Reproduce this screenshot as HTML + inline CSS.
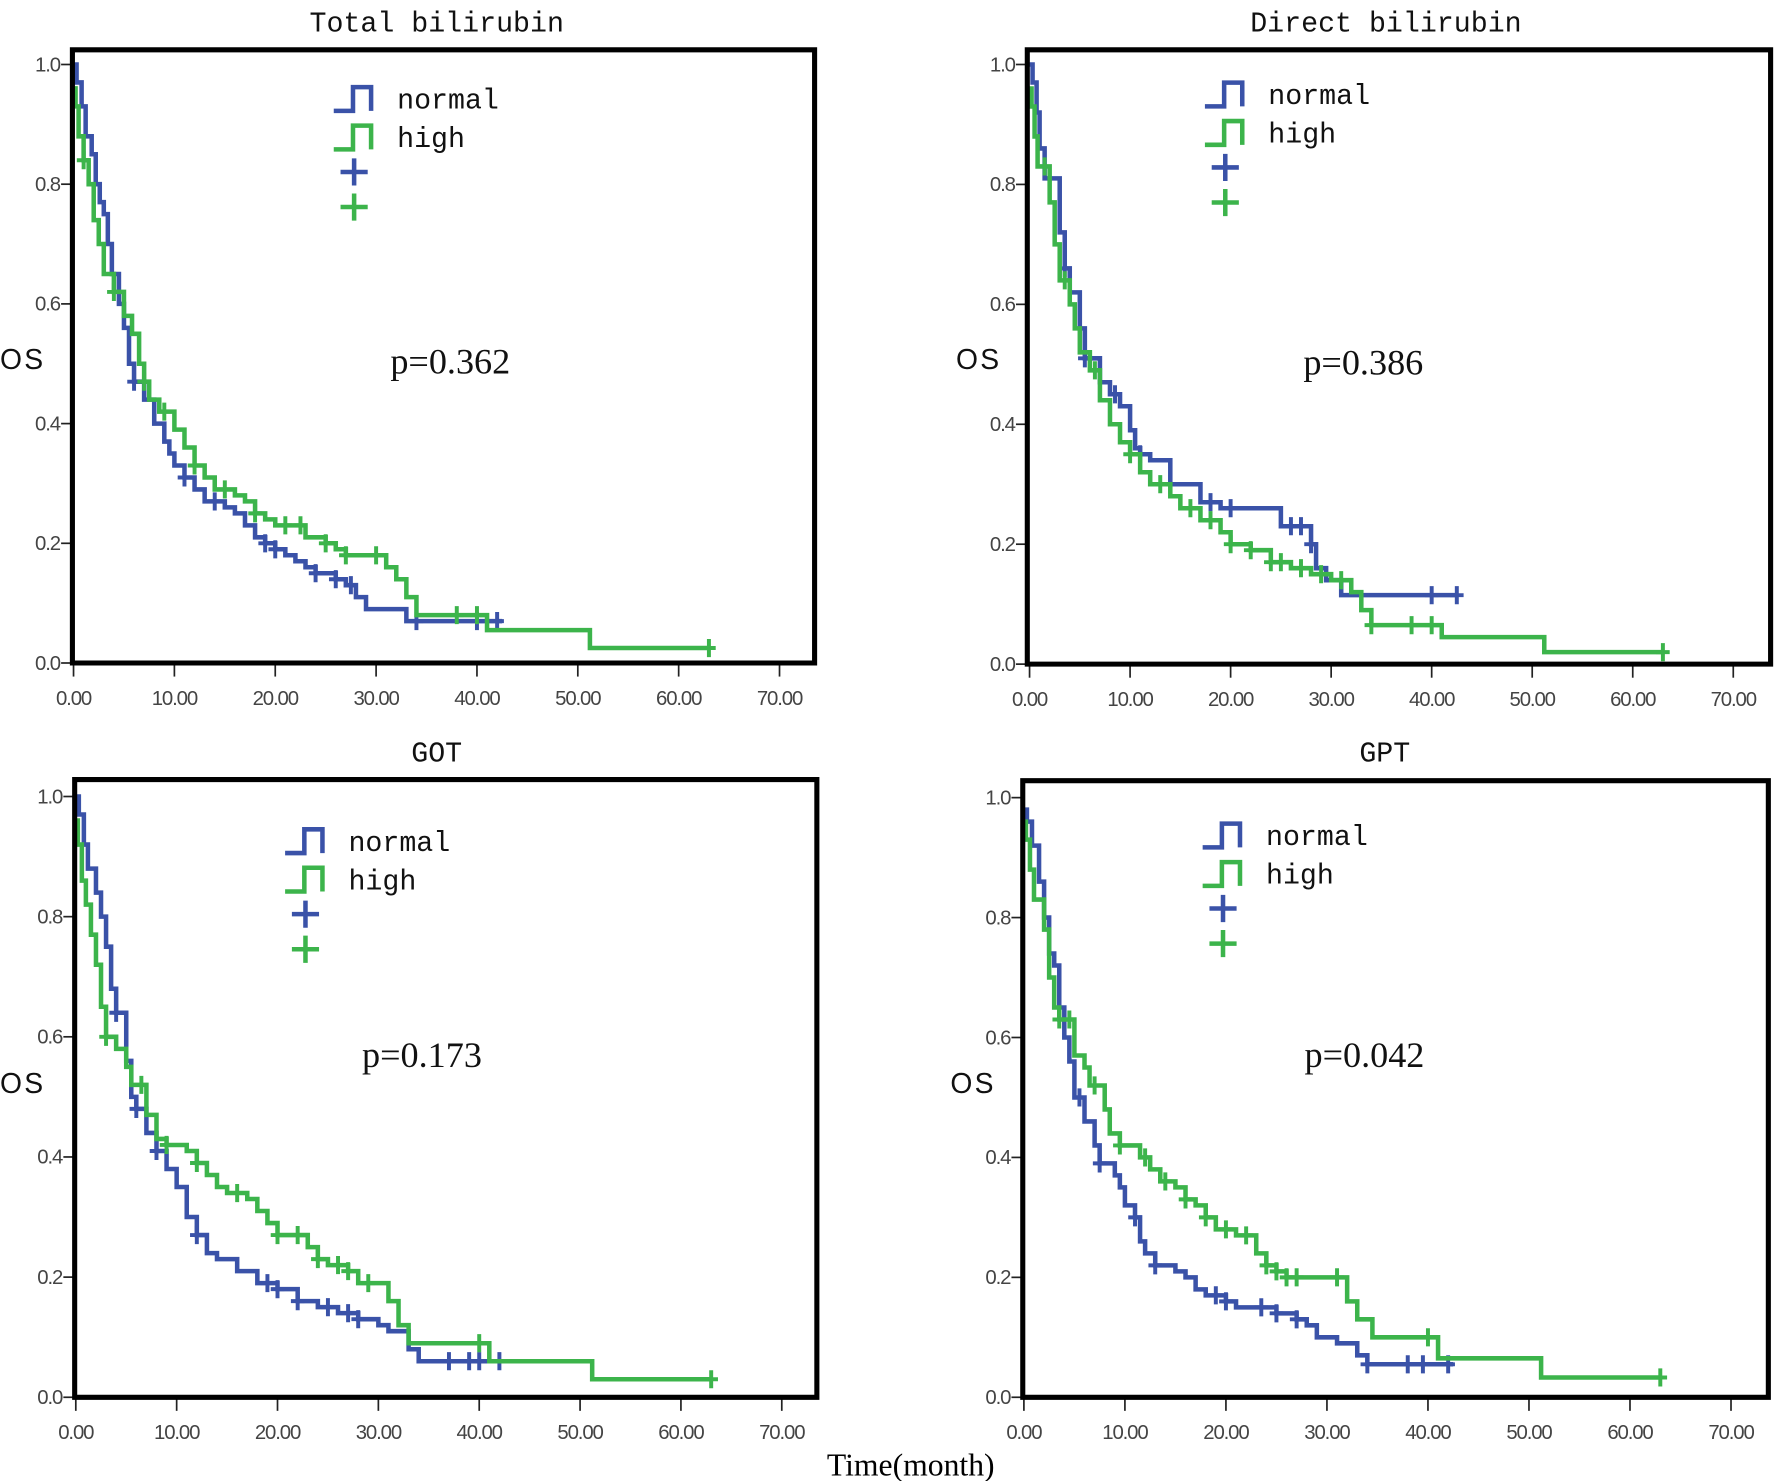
<!DOCTYPE html>
<html><head><meta charset="utf-8"><style>
html,body{margin:0;padding:0;background:#fff;}
svg{display:block;}
text{font-family:"Liberation Sans",sans-serif;}
.tick{font-size:18px;fill:#444;letter-spacing:-1px;}
.ser{font-family:"Liberation Serif","Noto Serif CJK SC",serif;}
.mono{font-family:"Liberation Mono","Noto Serif CJK SC",monospace;}
</style></head><body>
<svg id="chart" width="1774" height="1481" viewBox="0 0 1568 1309" preserveAspectRatio="none" xmlns="http://www.w3.org/2000/svg">
<text class="ser" x="805" y="1304" font-size="28" text-anchor="middle">Time(month)</text>
</svg>
<script>
const xTicks=[0,10,20,30,40,50,60,70];
const xTickLabels=["0.00","10.00","20.00","30.00","40.00","50.00","60.00","70.00"];
const yTicks=[0,0.2,0.4,0.6,0.8,1.0];
const yTickLabels=["0.0","0.2","0.4","0.6","0.8","1.0"];
const titles=["Total bilirubin","Direct bilirubin","GOT","GPT"];
const pValues=["p=0.362","p=0.386","p=0.173","p=0.042"];

const tbNormalT=[0,0.3,0.8,1.2,1.8,2.2,2.6,3,3.4,3.8,4.5,5,5.5,6,7,8,9,9.5,10,11,12,13,15,16,17,18,19,20,21,22,23,24,26,27,28,29,33];
const tbNormalS=[1,0.97,0.93,0.88,0.85,0.8,0.77,0.75,0.7,0.65,0.6,0.56,0.5,0.47,0.44,0.4,0.37,0.35,0.33,0.31,0.29,0.27,0.26,0.25,0.23,0.21,0.2,0.19,0.18,0.17,0.16,0.15,0.14,0.13,0.11,0.09,0.07];
const tbNormalEnd=42.5;
const tbNormalCens=[6,11,14,19,20,24,26,27.5,34,40,42];
const tbHighT=[0,0.2,0.5,1,1.5,2,2.5,3,4,5,5.8,6.5,7,7.5,8.5,10,11,12,13,14,16,17,18,19,20,23,25,26,27,31,32,33,34,41,51.2];
const tbHighS=[0.96,0.93,0.88,0.84,0.8,0.74,0.7,0.65,0.62,0.58,0.55,0.5,0.47,0.44,0.42,0.39,0.36,0.33,0.31,0.29,0.28,0.27,0.25,0.24,0.23,0.21,0.2,0.19,0.18,0.16,0.14,0.11,0.08,0.055,0.025];
const tbHighEnd=63;
const tbHighCens=[1,4,7,9,12,15,18,21,22.5,25,27,30,38,40,63];

const dbNormalT=[0,0.3,0.7,1,1.5,3,3.5,4,5,5.5,7,8,9,10,10.5,11,12,14,17,19,25,28,28.5,29.5,31];
const dbNormalS=[1,0.97,0.92,0.86,0.81,0.72,0.66,0.62,0.56,0.51,0.47,0.45,0.43,0.39,0.36,0.35,0.34,0.3,0.27,0.26,0.23,0.2,0.16,0.14,0.115];
const dbNormalEnd=42.5;
const dbNormalCens=[3.5,5.5,8.5,11,14,18,20,26,27,28,40,42.5];
const dbHighT=[0,0.2,0.5,0.8,2,2.5,3,4,4.5,5,6,7,8,9,10,11,12,14,15,17,19,20,22,24,26,28,30,32,33,34,41,51.2];
const dbHighS=[0.96,0.93,0.88,0.83,0.77,0.7,0.64,0.6,0.56,0.52,0.49,0.44,0.4,0.37,0.35,0.32,0.3,0.28,0.26,0.24,0.22,0.2,0.19,0.17,0.16,0.15,0.14,0.12,0.09,0.065,0.045,0.02];
const dbHighEnd=63;
const dbHighCens=[1.5,3.5,6.5,10,13,16,18,20,22,24,25,27,29,31,34,38,40,63];

const gotNormalT=[0,0.3,0.8,1.2,2,2.5,3,3.5,4,5,5.5,6,7,8,9,10,11,12,13,14,16,18,20,22,24,26,28,30,31,33,34];
const gotNormalS=[1,0.97,0.92,0.88,0.84,0.8,0.75,0.68,0.64,0.56,0.5,0.48,0.44,0.41,0.38,0.35,0.3,0.27,0.24,0.23,0.21,0.19,0.18,0.16,0.15,0.14,0.13,0.12,0.11,0.08,0.06];
const gotNormalEnd=43;
const gotNormalCens=[4,6,8,12,19,20,22,25,27,28,37,39,40,42];
const gotHighT=[0,0.2,0.6,1,1.5,2,2.5,3,4,5,5.5,7,8,9,11,12,13,14,15,17,18,19,20,23,24,25,27,28,31,32,33,41,51.2];
const gotHighS=[0.96,0.92,0.86,0.82,0.77,0.72,0.65,0.6,0.58,0.55,0.52,0.47,0.43,0.42,0.41,0.39,0.37,0.35,0.34,0.33,0.31,0.29,0.27,0.25,0.23,0.22,0.21,0.19,0.16,0.12,0.09,0.06,0.03];
const gotHighEnd=63;
const gotHighCens=[3,6.5,9,12,16,20,22,24,26,27,29,40,63];

const gptNormalT=[0,0.3,0.8,1.5,2,2.5,3,3.5,4,4.5,5,6,7,7.5,9,9.5,10,11,11.5,12,13,15,16,17,18,20,21,25,27,28,29,31,33,34];
const gptNormalS=[0.98,0.96,0.92,0.86,0.8,0.74,0.72,0.65,0.6,0.56,0.5,0.46,0.42,0.39,0.37,0.35,0.32,0.3,0.26,0.24,0.22,0.21,0.2,0.18,0.17,0.16,0.15,0.14,0.13,0.12,0.1,0.09,0.07,0.055];
const gptNormalEnd=42.5;
const gptNormalCens=[5.5,7.5,11,13,19,20,23.5,25,27,34,38,39.5,42];
const gptHighT=[0,0.2,0.6,1,2,2.5,3,3.5,5,6,6.5,8,8.5,9.5,11.5,12.5,13.5,15,16,17,18,19,21,23,24,25,26,32,33,34.5,41,51.2];
const gptHighS=[0.96,0.93,0.88,0.83,0.78,0.7,0.65,0.63,0.57,0.55,0.52,0.48,0.44,0.42,0.4,0.38,0.36,0.35,0.33,0.32,0.3,0.28,0.27,0.24,0.22,0.21,0.2,0.16,0.13,0.1,0.065,0.033];
const gptHighEnd=63;
const gptHighCens=[3.5,4.5,7,9.5,12,14,16,18,20,22,24,25,26,27,31,40,63];

const seriesData=[
 [[tbNormalT,tbNormalS,tbNormalEnd,tbNormalCens],[tbHighT,tbHighS,tbHighEnd,tbHighCens]],
 [[dbNormalT,dbNormalS,dbNormalEnd,dbNormalCens],[dbHighT,dbHighS,dbHighEnd,dbHighCens]],
 [[gotNormalT,gotNormalS,gotNormalEnd,gotNormalCens],[gotHighT,gotHighS,gotHighEnd,gotHighCens]],
 [[gptNormalT,gptNormalS,gptNormalEnd,gptNormalCens],[gptHighT,gptHighS,gptHighEnd,gptHighCens]]
];
const layout=[
 {fl:64,ft:44,fr:720,fb:586,x0:65,x70:689,y1:57,y0:586,tx:386,ty:28,lx:295,ly:88,ptx:345,pty:330,osx:0,osy:326},
 {fl:908,ft:44,fr:1565,fb:587,x0:910,x70:1532,y1:57,y0:587,tx:1225,ty:28,lx:1065,ly:84,ptx:1152,pty:331,osx:845,osy:326},
 {fl:66,ft:689,fr:722,fb:1235,x0:67,x70:691,y1:704,y0:1235,tx:386,ty:673,lx:252,ly:744,ptx:320,pty:943,osx:0,osy:966},
 {fl:904,ft:690,fr:1563,fb:1235,x0:905,x70:1530,y1:705,y0:1235,tx:1224,ty:673,lx:1063,ly:739,ptx:1153,pty:943,osx:840,osy:966}
];
const colors=["#3a52a8","#3cb44b"];
const names=["normal","high"];
const NS="http://www.w3.org/2000/svg";
const svg=document.getElementById('chart');
function mk(tag,attrs,parent){const e=document.createElementNS(NS,tag);for(const k in attrs)e.setAttribute(k,attrs[k]);(parent||svg).appendChild(e);return e;}
function stepAt(T,S,t){let v=S[0];for(let i=0;i<T.length;i++){if(T[i]<=t)v=S[i];}return v;}
layout.forEach((L,pi)=>{
 const g=mk('g',{});
 
 
 const xs=v=>L.x0+(L.x70-L.x0)*v/70;
 const ys=v=>L.y0-(L.y0-L.y1)*v;
 const t=mk('text',{x:L.tx,y:L.ty,'font-size':25,'text-anchor':'middle',class:'mono',fill:'#111'},g);t.textContent=titles[pi];
 
 
 const os=mk('text',{x:L.osx,y:L.osy,'font-size':25,fill:'#111','letter-spacing':'2'},g);os.textContent="OS";
 
 
 xTicks.forEach((v,i)=>{
  mk('line',{x1:xs(v),x2:xs(v),y1:L.y0,y2:L.y0+12,stroke:'#222','stroke-width':1.5},g);
  const tl=mk('text',{x:xs(v),y:L.y0+37,class:'tick','text-anchor':'middle'},g);tl.textContent=xTickLabels[i];
  
  
 });
 yTicks.forEach((v,i)=>{
  mk('line',{x1:L.fl-10,x2:L.fl,y1:ys(v),y2:ys(v),stroke:'#222','stroke-width':1.5},g);
  const tl=mk('text',{x:L.fl-11,y:ys(v)+6,class:'tick','text-anchor':'end'},g);tl.textContent=yTickLabels[i];
  
  
 });
 seriesData[pi].forEach((sd,si)=>{
  const [T,S,end,C]=sd;
  let d='M'+xs(T[0])+' '+ys(S[0]);
  for(let i=1;i<T.length;i++){d+=' H'+xs(T[i])+' V'+ys(S[i]);}
  d+=' H'+xs(end);
  const p=mk('path',{d:d,fill:'none',stroke:colors[si],'stroke-width':4,'stroke-linejoin':'miter'},g);
  
  
  C.forEach(c=>{
   const cx=xs(c),cy=ys(stepAt(T,S,c));
   const m=mk('path',{d:`M${cx-6} ${cy} H${cx+6} M${cx} ${cy-8} V${cy+8}`,stroke:colors[si],'stroke-width':3.5},g);
   
   
  });
 });
 const fr=mk('path',{d:`M${L.fl} ${L.ft} H${L.fr} V${L.fb} H${L.fl} Z`,fill:'none',stroke:'#000','stroke-width':4.5},g);
 
 
 const lg=mk('g',{},g);
 
 
 [0,1].forEach(si=>{
  const yy=L.ly+si*34;
  mk('path',{d:`M${L.lx} ${yy+10} H${L.lx+17} V${yy-11} H${L.lx+33} V${yy+10}`,fill:'none',stroke:colors[si],'stroke-width':4},lg);
  const lt=mk('text',{x:L.lx+56,y:yy+8,'font-size':25,class:'mono',fill:'#111'},lg);lt.textContent=names[si];
  
  
  const py=L.ly+64+si*31;
  mk('path',{d:`M${L.lx+6} ${py} H${L.lx+30} M${L.lx+18} ${py-12} V${py+12}`,stroke:colors[si],'stroke-width':4},lg);
 });
 const pt=mk('text',{x:L.ptx,y:L.pty,'font-size':32,class:'ser',fill:'#111'},g);pt.textContent=pValues[pi];
 
 
});
</script>
</body></html>
